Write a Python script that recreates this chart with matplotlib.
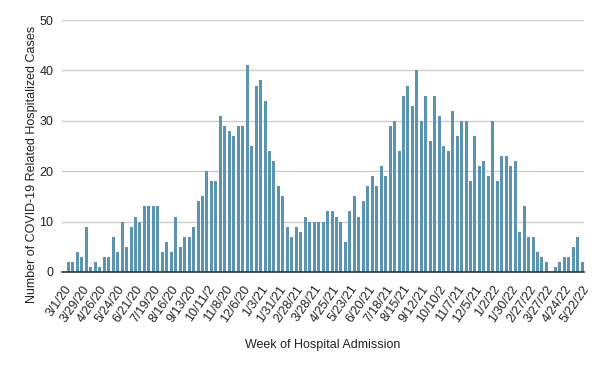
import matplotlib
matplotlib.use("Agg")
import matplotlib.pyplot as plt
import matplotlib.transforms as mtransforms
import numpy as np

plt.rcParams["font.family"] = ["Liberation Sans", "DejaVu Sans"]

# Tick labels, every fourth week (long ones are cut off in the original)
week_labels = ["3/1/20", "3/29/20", "4/26/20", "5/24/20", "6/21/20", "7/19/20",
               "8/16/20", "9/13/20", "10/11/2", "11/8/20", "12/6/20", "1/3/21",
               "1/31/21", "2/28/21", "3/28/21", "4/25/21", "5/23/21", "6/20/21",
               "7/18/21", "8/15/21", "9/12/21", "10/10/2", "11/7/21", "12/5/21",
               "1/2/22", "1/30/22", "2/27/22", "3/27/22", "4/24/22", "5/22/22"]

# Weekly hospitalized cases
cases = [0, 2, 2, 4, 3, 9, 1, 2, 1, 3, 3, 7, 4, 10, 5, 9, 11, 10, 13, 13,
         13, 13, 4, 6, 4, 11, 5, 7, 7, 9, 14, 15, 20, 18, 18, 31, 29, 28, 27, 29,
         29, 41, 25, 37, 38, 34, 24, 22, 17, 15, 9, 7, 9, 8, 11, 10, 10, 10, 10, 12,
         12, 11, 10, 6, 12, 15, 11, 14, 17, 19, 17, 21, 19, 29, 30, 24, 35, 37, 33, 40,
         30, 35, 26, 35, 31, 25, 24, 32, 27, 30, 30, 18, 27, 21, 22, 19, 30, 18, 23, 23,
         21, 22, 8, 13, 7, 7, 4, 3, 2, 0, 1, 2, 3, 3, 5, 7, 2]

x = np.arange(len(cases))

fig = plt.figure(figsize=(6, 3.71), dpi=100)
ax = fig.add_axes([0.103, 0.267, 0.871, 0.679])

ax.bar(x, cases, width=0.66, color="#5a94b1", zorder=3)

ax.set_xlim(-0.5, len(cases) - 0.5)
ax.set_ylim(0, 50)
ax.set_yticks(range(0, 51, 10))
ax.set_xticks(x[::4])
ax.set_xticklabels(week_labels, rotation=55, ha="right", rotation_mode="anchor")

# nudge the date labels a little to the right
shift = mtransforms.ScaledTranslation(4 / 100, 0, fig.dpi_scale_trans)
for lbl in ax.get_xticklabels():
    lbl.set_transform(lbl.get_transform() + shift)

ax.grid(axis="y", color="#cccccc", linewidth=1, zorder=0)
for side in ["top", "right", "left"]:
    ax.spines[side].set_visible(False)
ax.spines["bottom"].set_color("#333333")
ax.spines["bottom"].set_linewidth(1.2)
ax.spines["bottom"].set_zorder(4)
ax.tick_params(axis="both", length=0, labelsize=9, colors="#222222")
ax.tick_params(axis="y", pad=6)
ax.tick_params(axis="x", pad=8)

ax.set_xlabel("Week of Hospital Admission", fontsize=9, color="#222222")
ax.xaxis.set_label_coords(0.5, -0.268)
ax.set_ylabel("Number of COVID-19 Related Hospitalized Cases", fontsize=9,
              color="#222222")
ax.yaxis.set_label_coords(-0.045, 0.425)

fig.savefig("out.png", dpi=100)
